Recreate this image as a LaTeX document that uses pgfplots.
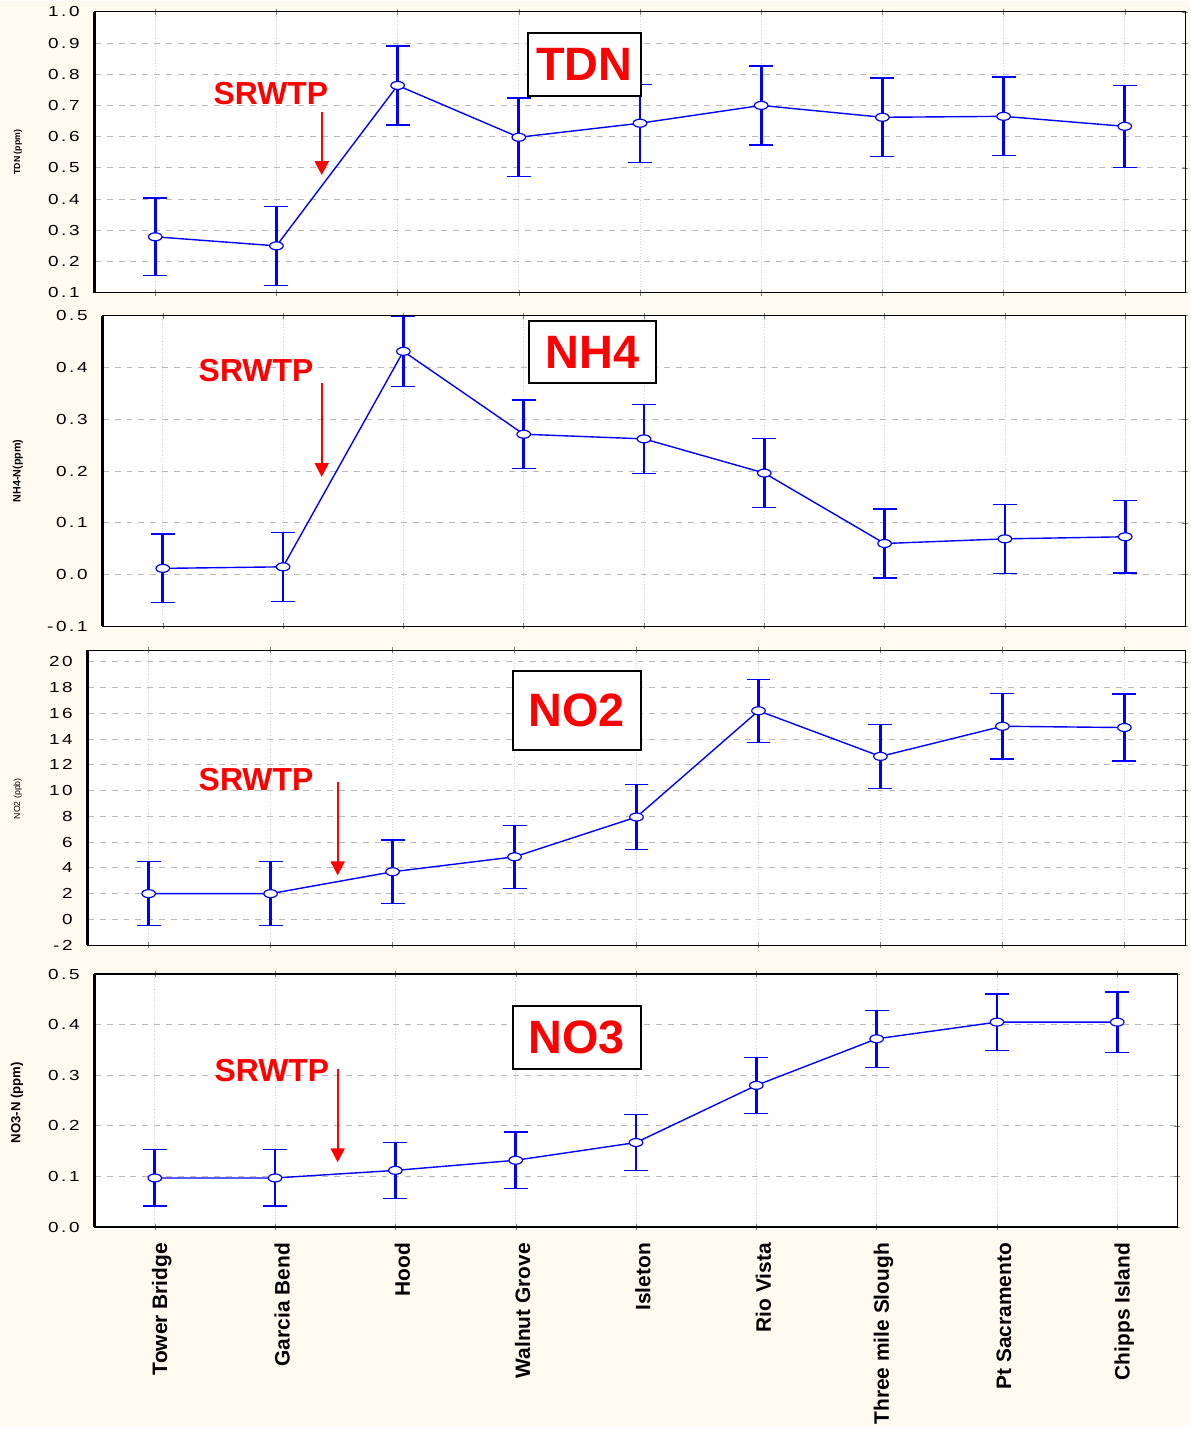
\documentclass[border=0pt]{standalone}
\usepackage{fontspec}
\setmainfont{Liberation Sans}
\newfontfamily\tickfont[LetterSpace=18,FakeStretch=1.3]{Liberation Sans}
\usepackage{pgfplots}
\usepackage{pgfplotstable}
\pgfplotsset{compat=1.18}
\usetikzlibrary{arrows.meta}
\definecolor{bg}{RGB}{255,250,240}
\definecolor{pblue}{RGB}{0,0,255}
\definecolor{pred}{RGB}{255,0,0}

\pgfplotstableread{
x y e
0 0.279 0.1245
1 0.250 0.1265
2 0.764 0.1265
3 0.598 0.126
4 0.643 0.125
5 0.700 0.1265
6 0.662 0.126
7 0.665 0.126
8 0.633 0.132
}\tdn
\pgfplotstableread{
x y e
0 0.012 0.0665
1 0.015 0.0665
2 0.431 0.068
3 0.271 0.066
4 0.262 0.0665
5 0.196 0.0665
6 0.060 0.0665
7 0.069 0.0665
8 0.073 0.070
}\nhf
\pgfplotstableread{
x y e
0 2.0 2.5
1 2.0 2.5
2 3.7 2.47
3 4.86 2.45
4 7.95 2.5
5 16.2 2.45
6 12.66 2.5
7 15.0 2.55
8 14.9 2.6
}\notwo
\pgfplotstableread{
x y e
0 0.097 0.0555
1 0.097 0.0555
2 0.112 0.055
3 0.132 0.056
4 0.167 0.056
5 0.280 0.0555
6 0.372 0.056
7 0.405 0.0555
8 0.405 0.0595
}\nothree

\pgfplotsset{
 panel/.style={
  scale only axis, xmin=-0.5, xmax=8.5, xtick={0,...,8}, xticklabels={},
  xmajorgrids, ymajorgrids,
  x grid style={gray!35, line width=0.4pt, densely dotted},
  y grid style={gray!55, line width=0.4pt, dashed},
  axis background/.style={fill=white},
  axis line style={line width=0.6pt},
  xtick pos=both, ytick pos=right, yticklabel pos=left,
  tick align=center, major tick length=3pt,
  yticklabel style={font=\tickfont\fontsize{7.3}{8}\selectfont, xshift=-2.5pt, /pgf/number format/assume math mode=true},
  clip=false,
 },
 dec1/.style={yticklabel style={/pgf/number format/fixed, /pgf/number format/fixed zerofill, /pgf/number format/precision=1}},
 series/.style={pblue, line width=0.7pt, mark=*, mark size=2pt,
  mark options={fill=white, draw=pblue, line width=0.6pt, xscale=1.7},
  error bars/.cd, y dir=both, y explicit,
  error bar style={line width=1.4pt, pblue},
  error mark options={rotate=90, mark size=6pt, line width=0.6pt, pblue}},
}

\begin{document}
\begin{tikzpicture}
\fill[bg] (0,0) rectangle (597.5pt,-715.5pt);

% Panel 1 TDN
\begin{axis}[panel, dec1, at={(47.5pt,-146.5pt)}, anchor=south west,
  width=547.5pt, height=141pt, ymin=0.1, ymax=1.0, ytick={0.1,0.2,...,1.0}]
\addplot[series] table[x=x,y=y,y error=e] {\tdn};
\draw[line width=1.3pt] (rel axis cs:0,0) -- (rel axis cs:0,1);
\end{axis}

% Panel 2 NH4
\begin{axis}[panel, dec1, at={(51.5pt,-314pt)}, anchor=south west,
  width=543.5pt, height=156pt, ymin=-0.1, ymax=0.5, ytick={-0.1,0,0.1,0.2,0.3,0.4,0.5}]
\addplot[series] table[x=x,y=y,y error=e] {\nhf};
\draw[line width=1.3pt] (rel axis cs:0,0) -- (rel axis cs:0,1);
\end{axis}

% Panel 3 NO2
\begin{axis}[panel, at={(44pt,-474pt)}, anchor=south west,
  width=551pt, height=148pt, ymin=-2, ymax=20.9, ytick={-2,0,2,...,20}]
\addplot[series] table[x=x,y=y,y error=e] {\notwo};
\draw[line width=1.3pt] (rel axis cs:0,0) -- (rel axis cs:0,1);
\end{axis}

% Panel 4 NO3
\begin{axis}[panel, dec1, at={(47.5pt,-615.5pt)}, anchor=south west,
  width=543.5pt, height=127pt, ymin=0, ymax=0.5, ytick={0,0.1,...,0.5},
  xticklabels={Tower Bridge, Garcia Bend, Hood, Walnut Grove, Isleton, Rio Vista, Three mile Slough, Pt Sacramento, Chipps Island},
  xticklabel style={xshift=3.5pt, rotate=90, anchor=east, font=\bfseries\fontsize{10.5}{12}\selectfont},
  xticklabel shift=3pt]
\addplot[series] table[x=x,y=y,y error=e] {\nothree};
\draw[line width=1.3pt] (rel axis cs:0,0) -- (rel axis cs:0,1);
\end{axis}

\begin{scope}[x=0.5pt,y=-0.5pt]
% y labels
\node[rotate=90, font=\bfseries\fontsize{4.4}{5}\selectfont] at (18,152) {TDN (ppm)};
\node[rotate=90, font=\bfseries\fontsize{5.4}{6}\selectfont] at (18,472) {NH4-N(ppm)};
\node[rotate=90, font=\fontsize{4.4}{5}\selectfont] at (18,801) {NO2 (ppb)};
\node[rotate=90, font=\bfseries\fontsize{6.6}{7}\selectfont] at (17,1106) {NO3-N (ppm)};
% boxes
\tikzset{bx/.style={draw=black, line width=1pt, fill=white, inner sep=0pt, text=pred, font=\bfseries\fontsize{23.5}{24}\selectfont}}
\node[bx, minimum width=56.5pt, minimum height=32pt] at (586.5,64) {TDN};
\node[bx, minimum width=64pt, minimum height=31.5pt] at (595,352.5) {NH4};
\node[bx, minimum width=64pt, minimum height=39.5pt] at (579,712.5) {NO2};
\node[bx, minimum width=64pt, minimum height=31.5pt] at (579,1040.5) {NO3};
% SRWTP
\tikzset{sr/.style={text=pred, font=\bfseries\fontsize{16}{17}\selectfont}}
\node[sr] at (272,93) {SRWTP};
\node[sr] at (257,371) {SRWTP};
\node[sr] at (257,782) {SRWTP};
\node[sr] at (273,1074) {SRWTP};
\tikzset{ar/.style={pred, line width=1pt, -{Triangle[width=7pt,length=7pt]}}}
\draw[ar] (323,112) -- (323,175);
\draw[ar] (323,384) -- (323,478);
\draw[ar] (339,784) -- (339,878);
\draw[ar] (339,1072) -- (339,1166);
\end{scope}
\end{tikzpicture}
\end{document}
